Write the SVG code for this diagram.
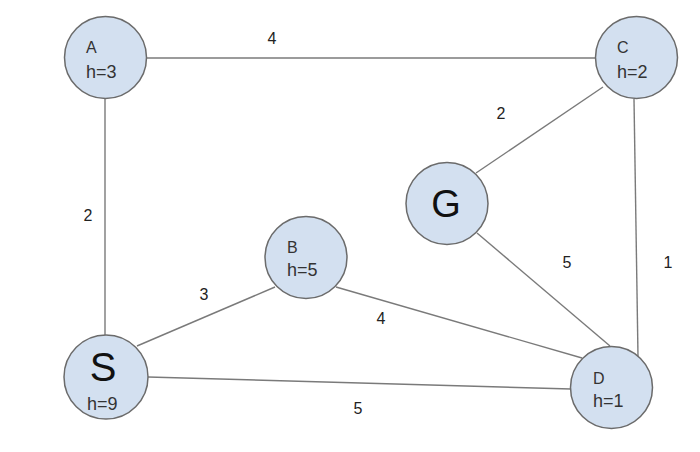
<svg xmlns="http://www.w3.org/2000/svg" width="700" height="452" viewBox="0 0 700 452">
<style>
.n{fill:#d3e0f0;stroke:#6b6b6b;stroke-width:1.5}
.e{stroke:#7a7a7a;stroke-width:1.4;fill:none}
.t{font-family:"Liberation Sans",Arial,sans-serif;font-size:18px;fill:#333}
.big{font-family:"Liberation Sans",Arial,sans-serif;font-size:38px;fill:#111;text-anchor:middle}
.w{font-family:"Liberation Sans",Arial,sans-serif;font-size:16px;fill:#222;text-anchor:middle}
</style>
<rect width="700" height="452" fill="#fff"/>
<g id="edges">
<line class="e" x1="147" y1="58" x2="595" y2="58"/>
<line class="e" x1="105" y1="99" x2="105" y2="336"/>
<line class="e" x1="603" y1="87" x2="476" y2="173"/>
<line class="e" x1="634" y1="99" x2="638" y2="356"/>
<line class="e" x1="477" y1="233" x2="610" y2="346"/>
<line class="e" x1="336" y1="287" x2="582" y2="358"/>
<line class="e" x1="275" y1="287" x2="137" y2="346"/>
<line class="e" x1="148" y1="377" x2="571" y2="389"/>
<text class="w" x="272" y="44">4</text>
<text class="w" x="88" y="221">2</text>
<text class="w" x="501" y="119">2</text>
<text class="w" x="204" y="300">3</text>
<text class="w" x="381" y="324">4</text>
<text class="w" x="567" y="268">5</text>
<text class="w" x="668" y="268">1</text>
<text class="w" x="358" y="414">5</text>
</g>
<g id="A"><circle class="n" cx="105.5" cy="57.5" r="41"/><text class="t" x="86" y="53" style="font-size:16px">A</text><text class="t" x="86" y="78">h=3</text></g>
<g id="C"><circle class="n" cx="636.5" cy="57.5" r="41"/><text class="t" x="617" y="53" style="font-size:16px">C</text><text class="t" x="617" y="78">h=2</text></g>
<g id="G"><circle class="n" cx="447" cy="203.5" r="41"/><text class="big" x="446" y="217">G</text></g>
<g id="B"><circle class="n" cx="306" cy="257.5" r="41"/><text class="t" x="287" y="253" style="font-size:16px">B</text><text class="t" x="287" y="276">h=5</text></g>
<g id="S"><circle class="n" cx="106" cy="377" r="42"/><text class="big" x="103" y="381" style="font-size:40px">S</text><text class="t" x="87" y="410">h=9</text></g>
<g id="D"><circle class="n" cx="611.5" cy="387.5" r="41"/><text class="t" x="593" y="384" style="font-size:16px">D</text><text class="t" x="593" y="407">h=1</text></g>
</svg>
